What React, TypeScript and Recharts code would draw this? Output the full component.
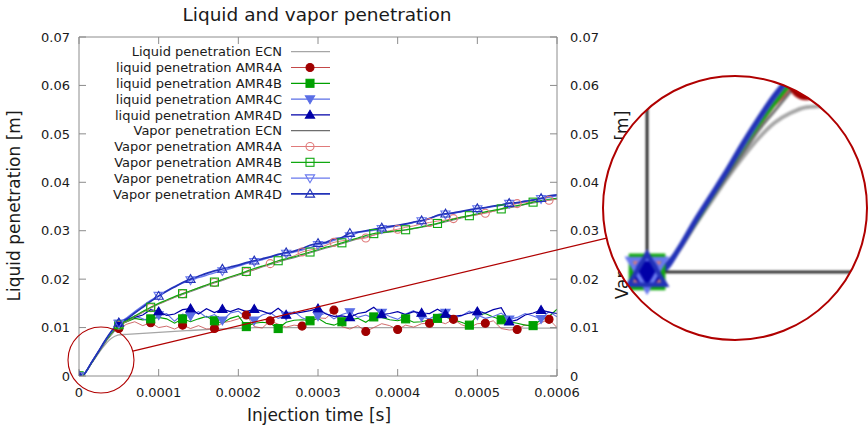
import React from "react";
import { ComposedChart, Line, XAxis, YAxis, ReferenceLine } from "recharts";

// time grid [s]: fine steps during the rise, then 10 µs
const time = [
  0, 5e-6, 1e-5, 1.5e-5, 2e-5, 2.5e-5, 3e-5, 3.5e-5, 4e-5, 4.5e-5, 5e-5,
  6e-5, 7e-5, 8e-5, 9e-5, 1e-4,
  1.1e-4, 1.2e-4, 1.3e-4, 1.4e-4, 1.5e-4, 1.6e-4, 1.7e-4, 1.8e-4, 1.9e-4, 2e-4,
  2.1e-4, 2.2e-4, 2.3e-4, 2.4e-4, 2.5e-4, 2.6e-4, 2.7e-4, 2.8e-4, 2.9e-4, 3e-4,
  3.1e-4, 3.2e-4, 3.3e-4, 3.4e-4, 3.5e-4, 3.6e-4, 3.7e-4, 3.8e-4, 3.9e-4, 4e-4,
  4.1e-4, 4.2e-4, 4.3e-4, 4.4e-4, 4.5e-4, 4.6e-4, 4.7e-4, 4.8e-4, 4.9e-4, 5e-4,
  5.1e-4, 5.2e-4, 5.3e-4, 5.4e-4, 5.5e-4, 5.6e-4, 5.7e-4, 5.8e-4, 5.9e-4, 6e-4,
];

const liquidEcn = [
  0, 0.0001, 0.0011, 0.0024, 0.0036, 0.0048, 0.0059, 0.0069, 0.0077, 0.0082, 0.0085,
  0.0086, 0.0087, 0.0088, 0.0089, 0.009,
  0.0091, 0.0092, 0.0093, 0.0094, 0.0095, 0.0096, 0.0097, 0.0097, 0.0098, 0.0099,
  0.0099, 0.01, 0.01, 0.01, 0.01, 0.01, 0.01, 0.01, 0.01, 0.01,
  0.01, 0.01, 0.01, 0.01, 0.01, 0.01, 0.01, 0.01, 0.01, 0.01,
  0.01, 0.01, 0.01, 0.01, 0.01, 0.01, 0.01, 0.01, 0.01, 0.01,
  0.01, 0.01, 0.01, 0.01, 0.01, 0.0099, 0.0099, 0.0099, 0.0099, 0.0099,
];
const liquidA = [
  0, 0.0001, 0.0012, 0.0025, 0.0038, 0.0051, 0.0063, 0.0075, 0.0086, 0.0094, 0.0098,
  0.0107, 0.0112, 0.0104, 0.011, 0.01,
  0.0103, 0.0097, 0.0105, 0.0098, 0.0104, 0.0097, 0.0098, 0.011, 0.0113, 0.0118,
  0.0126, 0.0102, 0.0099, 0.0114, 0.0107, 0.0101, 0.0105, 0.0103, 0.011, 0.012,
  0.0119, 0.0136, 0.0102, 0.0097, 0.0104, 0.0092, 0.01, 0.0108, 0.0104, 0.0096,
  0.0105, 0.0101, 0.0108, 0.0109, 0.0113, 0.0108, 0.0117, 0.0106, 0.01, 0.0108,
  0.0109, 0.0114, 0.0098, 0.0095, 0.0096, 0.0106, 0.0101, 0.011, 0.0117, 0.01,
];
const liquidB = [
  0, 0.0001, 0.0012, 0.0025, 0.0038, 0.0051, 0.0064, 0.0076, 0.0087, 0.0097, 0.0106,
  0.0112, 0.0119, 0.0116, 0.0118, 0.0121,
  0.0118, 0.0109, 0.0118, 0.0112, 0.0118, 0.0123, 0.0114, 0.0109, 0.0119, 0.0124,
  0.0102, 0.0109, 0.0111, 0.0109, 0.0098, 0.0111, 0.0115, 0.0116, 0.0114, 0.0119,
  0.0109, 0.0105, 0.0112, 0.0116, 0.0119, 0.0111, 0.0122, 0.0121, 0.0116, 0.0114,
  0.0118, 0.0111, 0.0112, 0.0116, 0.0119, 0.0122, 0.0116, 0.0111, 0.0105, 0.0125,
  0.0129, 0.0122, 0.0116, 0.0112, 0.0109, 0.0105, 0.0104, 0.0116, 0.0123, 0.0138,
];
const liquidC = [
  0, 0.0001, 0.0012, 0.0026, 0.0039, 0.0052, 0.0065, 0.0078, 0.0089, 0.0099, 0.0108,
  0.0115, 0.0124, 0.0118, 0.0112, 0.0126,
  0.0129, 0.0113, 0.0128, 0.0124, 0.0133, 0.0121, 0.0127, 0.0115, 0.013, 0.0134,
  0.0121, 0.0115, 0.0126, 0.0131, 0.0119, 0.0125, 0.0133, 0.012, 0.0114, 0.0124,
  0.013, 0.0118, 0.0127, 0.0132, 0.0121, 0.0126, 0.0119, 0.0131, 0.0123, 0.0117,
  0.0128, 0.0135, 0.0122, 0.0118, 0.0127, 0.0131, 0.012, 0.0124, 0.0134, 0.0126,
  0.0119, 0.0123, 0.013, 0.0117, 0.0121, 0.0129, 0.0124, 0.0118, 0.0133, 0.0122,
];
const liquidD = [
  0, 0.0001, 0.0012, 0.0026, 0.0039, 0.0052, 0.0065, 0.0078, 0.009, 0.01, 0.0109,
  0.0117, 0.0121, 0.0126, 0.0137, 0.0133,
  0.0125, 0.0128, 0.0137, 0.0139, 0.0128, 0.0139, 0.0131, 0.0138, 0.0133, 0.0139,
  0.0133, 0.0138, 0.0134, 0.0128, 0.014, 0.0126, 0.0129, 0.0132, 0.0135, 0.0139,
  0.0128, 0.0123, 0.0124, 0.0121, 0.0129, 0.0132, 0.0142, 0.0127, 0.0129, 0.0133,
  0.0127, 0.0133, 0.013, 0.0129, 0.0138, 0.0128, 0.0123, 0.0125, 0.013, 0.0133,
  0.013, 0.0137, 0.0141, 0.0112, 0.0116, 0.0126, 0.013, 0.0136, 0.0132, 0.0129,
];
const vaporEcn = [
  0, 0.0001, 0.0011, 0.0024, 0.0037, 0.0049, 0.0061, 0.0073, 0.0083, 0.0093, 0.0103,
  0.0112, 0.0122, 0.0131, 0.014, 0.0148,
  0.0155, 0.0162, 0.0168, 0.0174, 0.018, 0.0186, 0.0192, 0.0197, 0.0203, 0.0208,
  0.0214, 0.0219, 0.0225, 0.023, 0.0235, 0.024, 0.0244, 0.0249, 0.0254, 0.0259,
  0.0264, 0.0268, 0.0273, 0.0278, 0.0283, 0.0287, 0.0291, 0.0295, 0.0297, 0.0299,
  0.0301, 0.0304, 0.0307, 0.031, 0.0314, 0.0318, 0.0322, 0.0326, 0.033, 0.0333,
  0.0337, 0.034, 0.0344, 0.0347, 0.035, 0.0354, 0.0357, 0.036, 0.0363, 0.0365,
];
const vaporA = [
  0, 0.0001, 0.0012, 0.0025, 0.0038, 0.0051, 0.0064, 0.0076, 0.0087, 0.0096, 0.0105,
  0.0113, 0.0123, 0.0132, 0.0141, 0.0149,
  0.0156, 0.0163, 0.017, 0.0176, 0.0182, 0.0188, 0.0193, 0.0199, 0.0204, 0.021,
  0.0215, 0.022, 0.0226, 0.0232, 0.0237, 0.0242, 0.0248, 0.0256, 0.026, 0.0264,
  0.027, 0.0276, 0.0279, 0.0281, 0.0283, 0.0285, 0.0291, 0.0296, 0.03, 0.0303,
  0.0307, 0.031, 0.0314, 0.0317, 0.032, 0.0322, 0.0325, 0.0328, 0.0331, 0.0333,
  0.0336, 0.034, 0.0345, 0.0351, 0.0356, 0.0358, 0.036, 0.0362, 0.0363, 0.0366,
];
const vaporB = [
  0, 0.0001, 0.0012, 0.0025, 0.0038, 0.0051, 0.0064, 0.0076, 0.0087, 0.0097, 0.0106,
  0.0114, 0.0124, 0.0133, 0.0142, 0.015,
  0.0157, 0.0164, 0.017, 0.0176, 0.0182, 0.0188, 0.0194, 0.0199, 0.0205, 0.021,
  0.0216, 0.0222, 0.0227, 0.0232, 0.0238, 0.0242, 0.0246, 0.0251, 0.0256, 0.0261,
  0.0266, 0.027, 0.0275, 0.028, 0.0285, 0.029, 0.0294, 0.0296, 0.0298, 0.03,
  0.0302, 0.0305, 0.0308, 0.0312, 0.0315, 0.032, 0.0324, 0.0328, 0.0331, 0.0335,
  0.0339, 0.0342, 0.0345, 0.0349, 0.0352, 0.0355, 0.0359, 0.0362, 0.0365, 0.0367,
];
const vaporC = [
  0, 0.0001, 0.0012, 0.0026, 0.0039, 0.0052, 0.0065, 0.0078, 0.009, 0.01, 0.0109,
  0.012, 0.0133, 0.0145, 0.0156, 0.0166,
  0.0176, 0.0185, 0.0192, 0.0198, 0.0203, 0.0208, 0.0213, 0.0217, 0.0222, 0.0227,
  0.0232, 0.0236, 0.024, 0.0245, 0.025, 0.0253, 0.0256, 0.026, 0.0265, 0.0271,
  0.0274, 0.028, 0.0284, 0.0289, 0.0296, 0.0299, 0.0301, 0.0304, 0.0307, 0.031,
  0.0313, 0.0317, 0.032, 0.0326, 0.0331, 0.0334, 0.0336, 0.0339, 0.0342, 0.0345,
  0.0347, 0.035, 0.0353, 0.0356, 0.0358, 0.036, 0.0364, 0.0366, 0.0369, 0.0372,
];
const vaporD = [
  0, 0.0001, 0.0012, 0.0026, 0.0039, 0.0052, 0.0066, 0.0079, 0.0091, 0.0101, 0.011,
  0.0118, 0.013, 0.0142, 0.0154, 0.0165,
  0.0175, 0.0184, 0.0193, 0.02, 0.0206, 0.0212, 0.0217, 0.0221, 0.0225, 0.0229,
  0.0234, 0.0238, 0.0242, 0.0246, 0.0251, 0.0255, 0.0258, 0.0263, 0.027, 0.0274,
  0.0276, 0.0283, 0.0286, 0.0295, 0.0297, 0.03, 0.0303, 0.0306, 0.0309, 0.0311,
  0.0314, 0.0318, 0.0321, 0.0325, 0.0332, 0.0335, 0.0337, 0.034, 0.0343, 0.0346,
  0.0348, 0.0351, 0.0353, 0.0357, 0.0358, 0.0361, 0.0363, 0.0367, 0.0372, 0.0374,
];

// where gnuplot put the point symbols
const marksA = [0, 5e-5, 9e-5, 1.3e-4, 1.7e-4, 2.1e-4, 2.4e-4, 2.8e-4, 3.2e-4, 3.6e-4, 4e-4, 4.4e-4, 4.7e-4, 5.1e-4, 5.5e-4, 5.9e-4];
const marksB = [0, 5e-5, 9e-5, 1.3e-4, 1.7e-4, 2.1e-4, 2.5e-4, 2.9e-4, 3.3e-4, 3.7e-4, 4.1e-4, 4.5e-4, 4.9e-4, 5.3e-4, 5.7e-4];
const marksD = [0, 5e-5, 1e-4, 1.4e-4, 1.8e-4, 2.2e-4, 2.6e-4, 3e-4, 3.4e-4, 3.8e-4, 4.3e-4, 4.6e-4, 5e-4, 5.4e-4, 5.8e-4];

const xTicks = [0, 1e-4, 2e-4, 3e-4, 4e-4, 5e-4, 6e-4];
const xTickLabels = ["0", "0.0001", "0.0002", "0.0003", "0.0004", "0.0005", "0.0006"];
const yTicks = [0, 0.01, 0.02, 0.03, 0.04, 0.05, 0.06, 0.07];
const yTickLabels = ["0", "0.01", "0.02", "0.03", "0.04", "0.05", "0.06", "0.07"];

const X_MAX = 0.0006;
const Y_MAX = 0.07;
const W = 868;
const H = 427;
const PLOT = { left: 79, top: 37, right: 557, bottom: 376 };
const FONT = "'DejaVu Sans', sans-serif";
const INK = "#1a1a1a";
const AXIS = "#8c8c8c";
const LENS_RED = "#b00000";

// magnifier: small circle around the start of injection, shown 4x in the big circle
const LENS = { t: 2.76e-5, v: 0.0033, r: 33, zoom: 4, cx: 735, cy: 208 };

type Shape = "circle" | "square" | "triUp" | "triDown" | null;
interface Series {
  key: string;
  name: string;
  values: number[];
  color: string;
  markColor?: string;
  width: number;
  shape: Shape;
  filled?: boolean;
  marks: number[];
  curve: "linear" | "monotoneX";
}

const SERIES: Series[] = [
  { key: "lEcn", name: "Liquid penetration ECN", values: liquidEcn, color: "#a6a6a6", width: 1.3, shape: null, marks: [], curve: "monotoneX" },
  { key: "lA", name: "liquid penetration AMR4A", values: liquidA, color: "#c44848", markColor: "#a00000", width: 0.8, shape: "circle", filled: true, marks: marksA, curve: "linear" },
  { key: "lB", name: "liquid penetration AMR4B", values: liquidB, color: "#00a000", width: 1.1, shape: "square", filled: true, marks: marksB, curve: "linear" },
  { key: "lC", name: "liquid penetration AMR4C", values: liquidC, color: "#5a6ee6", width: 1.1, shape: "triDown", filled: true, marks: marksD, curve: "linear" },
  { key: "lD", name: "liquid penetration AMR4D", values: liquidD, color: "#0000a8", width: 1.2, shape: "triUp", filled: true, marks: marksD, curve: "linear" },
  { key: "vEcn", name: "Vapor penetration ECN", values: vaporEcn, color: "#6e6e6e", width: 0.9, shape: null, marks: [], curve: "monotoneX" },
  { key: "vA", name: "Vapor penetration AMR4A", values: vaporA, color: "#e07a7a", width: 1, shape: "circle", filled: false, marks: marksA, curve: "monotoneX" },
  { key: "vB", name: "Vapor penetration AMR4B", values: vaporB, color: "#10a810", width: 1.2, shape: "square", filled: false, marks: marksB, curve: "monotoneX" },
  { key: "vC", name: "Vapor penetration AMR4C", values: vaporC, color: "#6878ee", width: 1.4, shape: "triDown", filled: false, marks: marksD, curve: "monotoneX" },
  { key: "vD", name: "Vapor penetration AMR4D", values: vaporD, color: "#2232b8", width: 1.7, shape: "triUp", filled: false, marks: marksD, curve: "monotoneX" },
];

const rows = time.map((t, i) => {
  const row: Record<string, number> = { t };
  SERIES.forEach((s) => {
    row[s.key] = s.values[i];
  });
  return row;
});

function Marker({ shape, x, y, size, color, filled, sw }: { shape: Shape; x: number; y: number; size: number; color: string; filled?: boolean; sw: number }) {
  const h = size / 2;
  const fill = filled ? color : "none";
  if (shape === "circle") return <circle cx={x} cy={y} r={h} fill={fill} stroke={color} strokeWidth={sw} />;
  if (shape === "square") return <rect x={x - h} y={y - h} width={size} height={size} fill={fill} stroke={color} strokeWidth={sw} />;
  const k = h * 1.15;
  if (shape === "triUp")
    return <polygon points={`${x},${y - k} ${x - k},${y + k * 0.7} ${x + k},${y + k * 0.7}`} fill={fill} stroke={color} strokeWidth={sw} />;
  return <polygon points={`${x},${y + k} ${x - k},${y - k * 0.7} ${x + k},${y - k * 0.7}`} fill={fill} stroke={color} strokeWidth={sw} />;
}

const makeDot = (s: Series, scale: number) => (props: any) => {
  const { cx, cy, payload, index } = props;
  const k = `${s.key}-${index}`;
  if (!s.shape || cx == null || cy == null || !s.marks.some((m) => Math.abs(m - payload.t) < 1e-9)) return <g key={k} />;
  return (
    <g key={k}>
      <Marker shape={s.shape} x={cx} y={cy} size={8 * scale} color={s.markColor ?? s.color} filled={s.filled} sw={1.1 * scale} />
    </g>
  );
};

// lineScale: stroke widths, markScale: symbol sizes
const renderLines = (lineScale: number, markScale: number) =>
  SERIES.map((s) => (
    <Line
      key={s.key}
      dataKey={s.key}
      type={s.curve}
      stroke={s.color}
      strokeWidth={s.width * lineScale}
      dot={makeDot(s, markScale)}
      activeDot={false}
      isAnimationActive={false}
    />
  ));

const labelOf = (vals: number[], labels: string[], v: number) => {
  const i = vals.findIndex((x) => Math.abs(x - v) < 1e-12);
  return i >= 0 ? labels[i] : String(v);
};

// gnuplot-style ticks: marks point inward, labels outside
const TICK = 7;
const BottomTick = (p: any) => (
  <g>
    <line x1={p.x} x2={p.x} y1={PLOT.bottom} y2={PLOT.bottom - TICK} stroke={AXIS} />
    <text x={p.x} y={PLOT.bottom + 21} textAnchor="middle" fontSize={13} fontFamily={FONT} fill={INK}>
      {labelOf(xTicks, xTickLabels, p.payload.value)}
    </text>
  </g>
);
const TopTick = (p: any) => <line x1={p.x} x2={p.x} y1={PLOT.top} y2={PLOT.top + TICK} stroke={AXIS} />;
const LeftTick = (p: any) => (
  <g>
    <line x1={PLOT.left} x2={PLOT.left + TICK} y1={p.y} y2={p.y} stroke={AXIS} />
    <text x={PLOT.left - 9} y={p.y + 4.7} textAnchor="end" fontSize={13} fontFamily={FONT} fill={INK}>
      {labelOf(yTicks, yTickLabels, p.payload.value)}
    </text>
  </g>
);
const RightTick = (p: any) => (
  <g>
    <line x1={PLOT.right} x2={PLOT.right - TICK} y1={p.y} y2={p.y} stroke={AXIS} />
    <text x={PLOT.right + 13} y={p.y + 4.7} textAnchor="start" fontSize={13} fontFamily={FONT} fill={INK}>
      {labelOf(yTicks, yTickLabels, p.payload.value)}
    </text>
  </g>
);

export default function App() {
  const plotW = PLOT.right - PLOT.left;
  const plotH = PLOT.bottom - PLOT.top;
  // small circle in pixels, big circle radius, inset domains
  const sx = PLOT.left + (LENS.t / X_MAX) * plotW;
  const sy = PLOT.bottom - (LENS.v / Y_MAX) * plotH;
  const R = LENS.r * LENS.zoom;
  const halfT = R / ((plotW / X_MAX) * LENS.zoom);
  const halfV = R / ((plotH / Y_MAX) * LENS.zoom);
  const a = (-15.7 * Math.PI) / 180;
  const b = (166.8 * Math.PI) / 180;

  return (
    <div style={{ position: "absolute", left: 0, top: 0, width: W, height: H, background: "#fff", fontFamily: FONT }}>
      <ComposedChart width={W} height={H} data={rows} margin={{ top: 0, right: 0, bottom: 0, left: 0 }}>
        <XAxis dataKey="t" type="number" domain={[0, X_MAX]} ticks={xTicks} interval={0} height={H - PLOT.bottom} tickSize={0} tickMargin={0} tickLine={false} axisLine={{ stroke: AXIS }} tick={BottomTick} allowDataOverflow />
        <XAxis xAxisId="top" orientation="top" dataKey="t" type="number" domain={[0, X_MAX]} ticks={xTicks} interval={0} height={PLOT.top} tickSize={0} tickMargin={0} tickLine={false} axisLine={{ stroke: AXIS }} tick={TopTick} allowDataOverflow />
        <YAxis type="number" domain={[0, Y_MAX]} ticks={yTicks} interval={0} width={PLOT.left} tickSize={0} tickMargin={0} tickLine={false} axisLine={{ stroke: AXIS }} tick={LeftTick} allowDataOverflow />
        <YAxis yAxisId="right" orientation="right" type="number" domain={[0, Y_MAX]} ticks={yTicks} interval={0} width={W - PLOT.right} tickSize={0} tickMargin={0} tickLine={false} axisLine={{ stroke: AXIS }} tick={RightTick} allowDataOverflow />
        {renderLines(1, 1)}
      </ComposedChart>

      <svg width={W} height={H} style={{ position: "absolute", left: 0, top: 0, pointerEvents: "none" }} fontFamily={FONT}>
        <text x={317} y={21} textAnchor="middle" fontSize={18.5} fill={INK}>Liquid and vapor penetration</text>
        <text x={319} y={421} textAnchor="middle" fontSize={17} fill={INK}>Injection time [s]</text>
        <text x={19.5} y={206} textAnchor="middle" fontSize={17} fill={INK} transform="rotate(-90 19.5 206)">Liquid penetration [m]</text>
        <text x={627.5} y={205} textAnchor="middle" fontSize={17} fill={INK} transform="rotate(-90 627.5 205)">Vapor penetration [m]</text>
        {SERIES.map((s, i) => {
          const y = 51.7 + i * 15.8;
          return (
            <g key={s.key}>
              <text x={282} y={y + 4.7} textAnchor="end" fontSize={13} fill={INK}>{s.name}</text>
              <line x1={291} x2={330} y1={y} y2={y} stroke={s.color} strokeWidth={Math.max(1.2, s.width)} />
              {s.shape && <Marker shape={s.shape} x={310} y={y} size={8} color={s.markColor ?? s.color} filled={s.filled} sw={1.1} />}
            </g>
          );
        })}
        <circle cx={sx} cy={sy} r={LENS.r} fill="none" stroke={LENS_RED} strokeWidth={1.1} />
        <line
          x1={sx + LENS.r * Math.cos(a)}
          y1={sy + LENS.r * Math.sin(a)}
          x2={LENS.cx + R * Math.cos(b)}
          y2={LENS.cy + R * Math.sin(b)}
          stroke={LENS_RED}
          strokeWidth={1.2}
        />
      </svg>

      <div
        style={{
          position: "absolute",
          left: LENS.cx - R,
          top: LENS.cy - R,
          width: 2 * R,
          height: 2 * R,
          borderRadius: "50%",
          overflow: "hidden",
          background: "#fff",
        }}
      >
        <div style={{ filter: "blur(0.8px)" }}>
          <ComposedChart width={2 * R} height={2 * R} data={rows} margin={{ top: 0, right: 0, bottom: 0, left: 0 }}>
            <XAxis dataKey="t" type="number" domain={[LENS.t - halfT, LENS.t + halfT]} allowDataOverflow hide />
            <YAxis type="number" domain={[LENS.v - halfV, LENS.v + halfV]} allowDataOverflow hide />
            <ReferenceLine segment={[{ x: 0, y: 0 }, { x: 0, y: LENS.v + halfV * 0.99 }]} stroke="#111" strokeWidth={2.6} />
            <ReferenceLine segment={[{ x: 0, y: 0 }, { x: LENS.t + halfT * 0.99, y: 0 }]} stroke="#111" strokeWidth={2.6} />
            {renderLines(3, LENS.zoom)}
          </ComposedChart>
        </div>
      </div>

      <svg width={W} height={H} style={{ position: "absolute", left: 0, top: 0, pointerEvents: "none" }}>
        <circle cx={LENS.cx} cy={LENS.cy} r={R} fill="none" stroke={LENS_RED} strokeWidth={2} />
      </svg>
    </div>
  );
}
